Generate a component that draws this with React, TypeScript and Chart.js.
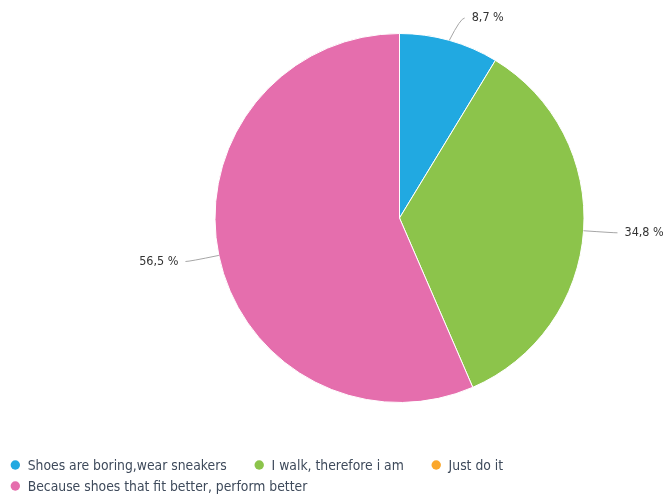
import React, { useEffect, useRef } from "react";
import { Chart, registerables } from "chart.js";

Chart.register(...registerables);

const categories = [
  "Shoes are boring,wear sneakers",
  "I walk, therefore i am",
  "Just do it",
  "Because shoes that fit better, perform better",
];
const shares = [8.7, 34.8, 0, 56.5];
const colors = ["#21a9e1", "#8cc44b", "#fba72a", "#e56ead"];

const FONT = "'DejaVu Sans Condensed', 'DejaVu Sans', sans-serif";

const fmt = (v: number) => v.toFixed(1).replace(".", ",") + " %";

const outLabels = {
  id: "outLabels",
  afterDatasetsDraw(chart: any) {
    const ctx = chart.ctx as CanvasRenderingContext2D;
    const meta = chart.getDatasetMeta(0);
    const data = chart.data.datasets[0].data as number[];
    ctx.save();
    ctx.font = `12.5px ${FONT}`;
    ctx.textBaseline = "middle";
    ctx.lineWidth = 1;
    ctx.strokeStyle = "#a6a6a6";
    ctx.fillStyle = "#333333";
    meta.data.forEach((arc: any, i: number) => {
      const v = data[i];
      if (!v) return;
      const p = arc.getProps(["x", "y", "startAngle", "endAngle", "outerRadius"], true);
      const mid = (p.startAngle + p.endAngle) / 2;
      const cos = Math.cos(mid);
      const sin = Math.sin(mid);
      const px = p.x + p.outerRadius * cos;
      const py = p.y + p.outerRadius * sin;
      const d = 30;
      const rawY = p.y + (p.outerRadius + d) * sin;
      const ly = Math.max(rawY, 18);
      const shift = (ly - rawY) * 0.5;
      const lx = p.x + (p.outerRadius + d) * cos + (cos >= 0 ? shift : -shift);
      const side = cos >= 0 ? 1 : -1;
      ctx.beginPath();
      ctx.moveTo(px, py);
      ctx.quadraticCurveTo(lx, ly, lx + side * 4, ly);
      ctx.stroke();
      ctx.textAlign = side > 0 ? "left" : "right";
      ctx.fillText(fmt(v), lx + side * 11, ly);
    });
    ctx.restore();
  },
};

const bottomLegend = {
  id: "bottomLegend",
  afterDraw(chart: any) {
    const ctx = chart.ctx as CanvasRenderingContext2D;
    const labels = chart.data.labels as string[];
    const bg = chart.data.datasets[0].backgroundColor as string[];
    ctx.save();
    ctx.font = `13.8px ${FONT}`;
    ctx.textBaseline = "middle";
    ctx.textAlign = "left";
    const startX = 15.3;
    const rowH = 21;
    let cx = startX;
    let cy = chart.height - 29;
    labels.forEach((lab, i) => {
      const w = ctx.measureText(lab).width;
      if (cx !== startX && cx + 12.4 + w > chart.width - 5) {
        cx = startX;
        cy += rowH;
      }
      ctx.beginPath();
      ctx.arc(cx, cy, 4.7, 0, Math.PI * 2);
      ctx.fillStyle = bg[i];
      ctx.fill();
      ctx.fillStyle = "#3e4a5b";
      ctx.fillText(lab, cx + 12.4, cy + 1);
      cx += 12.4 + w + 32.5;
    });
    ctx.restore();
  },
};

export default function App() {
  const ref = useRef<HTMLCanvasElement | null>(null);
  useEffect(() => {
    document.body.style.margin = "0";
    const canvas = ref.current!;
    const chart = new Chart(canvas, {
      type: "pie",
      data: {
        labels: categories,
        datasets: [
          {
            data: shares,
            backgroundColor: colors,
            borderColor: "#ffffff",
            borderWidth: 1,
          },
        ],
      },
      options: {
        animation: false,
        responsive: false,
        devicePixelRatio: 1,
        layout: { padding: { top: 33, bottom: 91, left: 176, right: 40 } },
        plugins: {
          legend: { display: false },
          tooltip: { enabled: false },
        },
      },
      plugins: [outLabels, bottomLegend],
    });
    return () => chart.destroy();
  }, []);
  return (
    <div style={{ width: 663, height: 494 }}>
      <canvas ref={ref} width={663} height={494} />
    </div>
  );
}
